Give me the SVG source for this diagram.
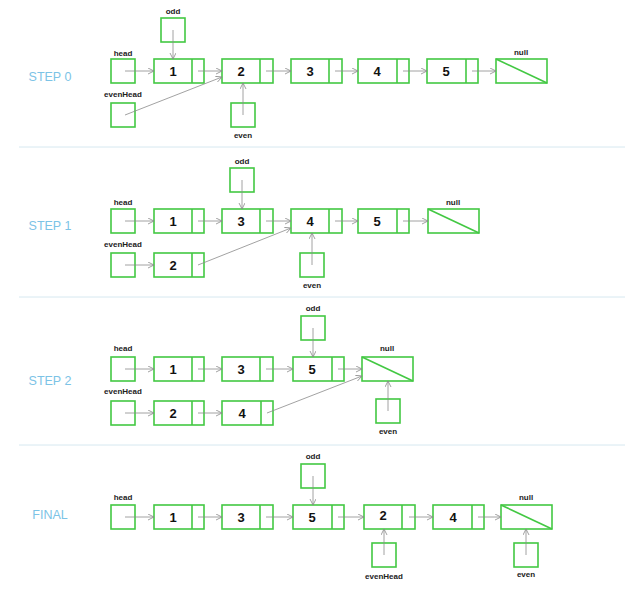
<svg xmlns="http://www.w3.org/2000/svg" width="640" height="590" viewBox="0 0 640 590">
<defs>
<marker id="arr" markerWidth="7" markerHeight="7" refX="6" refY="3" orient="auto" markerUnits="userSpaceOnUse">
<path d="M0,0 L6,3 L0,6" fill="none" stroke="#8a8a8a" stroke-width="0.8"/>
</marker>
<style>
.b{fill:#fff;stroke:#43c843;stroke-width:1.6}
.d{stroke:#43c843;stroke-width:1.6}
.n{font-family:"Liberation Sans",Arial,sans-serif;font-weight:bold;font-size:13px;fill:#111;text-anchor:middle}
.l{font-family:"Liberation Sans",Arial,sans-serif;font-weight:bold;font-size:8px;fill:#222;text-anchor:middle}
.s{font-family:"Liberation Sans",Arial,sans-serif;font-size:12.5px;fill:#7cc3e6;text-anchor:middle}
.sep{stroke:#d6e8f0;stroke-width:1}
.c line{stroke:#8a8a8a;stroke-width:0.8;marker-end:url(#arr)}
</style>
</defs>
<rect width="640" height="590" fill="#fff"/>
<g id="separators">
<line class="sep" x1="19" y1="147" x2="625" y2="147"/>
<line class="sep" x1="19" y1="297" x2="625" y2="297"/>
<line class="sep" x1="19" y1="445" x2="625" y2="445"/>
</g>
<g id="titles">
<text class="s" x="50" y="80.5">STEP 0</text>
<text class="s" x="50" y="229.5">STEP 1</text>
<text class="s" x="50" y="384.5">STEP 2</text>
<text class="s" x="50" y="518.5">FINAL</text>
</g>
<!-- STEP 0 -->
<g id="s0-head"><rect class="b" x="111" y="59" width="24" height="24"/><text class="l" x="123" y="56">head</text></g>
<g id="s0-odd"><rect class="b" x="161" y="18" width="24" height="24"/><text class="l" x="173" y="14">odd</text></g>
<g id="s0-evenHead"><rect class="b" x="111" y="103" width="24" height="24"/><text class="l" x="123" y="97">evenHead</text></g>
<g id="s0-even"><rect class="b" x="231" y="103" width="24" height="24"/><text class="l" x="243" y="138">even</text></g>
<g id="s0-n1"><rect class="b" x="154" y="59" width="50" height="24"/><line class="d" x1="192" y1="59" x2="192" y2="83"/><text class="n" x="173" y="75.5">1</text></g>
<g id="s0-n2"><rect class="b" x="222" y="59" width="51" height="24"/><line class="d" x1="260" y1="59" x2="260" y2="83"/><text class="n" x="241" y="75.5">2</text></g>
<g id="s0-n3"><rect class="b" x="291" y="59" width="51" height="24"/><line class="d" x1="329" y1="59" x2="329" y2="83"/><text class="n" x="310" y="75.5">3</text></g>
<g id="s0-n4"><rect class="b" x="358" y="59" width="51" height="24"/><line class="d" x1="397" y1="59" x2="397" y2="83"/><text class="n" x="377" y="75.5">4</text></g>
<g id="s0-n5"><rect class="b" x="427" y="59" width="51" height="24"/><line class="d" x1="466" y1="59" x2="466" y2="83"/><text class="n" x="446" y="75.5">5</text></g>
<g id="s0-null"><rect class="b" x="496" y="59" width="51" height="24"/><line class="d" x1="496" y1="59" x2="547" y2="83"/><text class="l" x="521" y="55">null</text></g>
<!-- STEP 1 -->
<g id="s1-head"><rect class="b" x="111" y="209" width="24" height="24"/><text class="l" x="123" y="205">head</text></g>
<g id="s1-odd"><rect class="b" x="230" y="168" width="24" height="24"/><text class="l" x="242" y="164">odd</text></g>
<g id="s1-evenHead"><rect class="b" x="111" y="253" width="24" height="24"/><text class="l" x="123" y="247">evenHead</text></g>
<g id="s1-even"><rect class="b" x="300" y="253" width="24" height="24"/><text class="l" x="312" y="288">even</text></g>
<g id="s1-n1"><rect class="b" x="154" y="209" width="50" height="24"/><line class="d" x1="192" y1="209" x2="192" y2="233"/><text class="n" x="173" y="225.5">1</text></g>
<g id="s1-n3"><rect class="b" x="222" y="209" width="51" height="24"/><line class="d" x1="260" y1="209" x2="260" y2="233"/><text class="n" x="241" y="225.5">3</text></g>
<g id="s1-n4"><rect class="b" x="291" y="209" width="51" height="24"/><line class="d" x1="329" y1="209" x2="329" y2="233"/><text class="n" x="310" y="225.5">4</text></g>
<g id="s1-n5"><rect class="b" x="358" y="209" width="51" height="24"/><line class="d" x1="397" y1="209" x2="397" y2="233"/><text class="n" x="377" y="225.5">5</text></g>
<g id="s1-null"><rect class="b" x="428" y="209" width="51" height="24"/><line class="d" x1="428" y1="209" x2="479" y2="233"/><text class="l" x="453" y="205">null</text></g>
<g id="s1-n2"><rect class="b" x="154" y="253" width="50" height="24"/><line class="d" x1="192" y1="253" x2="192" y2="277"/><text class="n" x="173" y="269.5">2</text></g>
<!-- STEP 2 -->
<g id="s2-head"><rect class="b" x="111" y="357" width="24" height="24"/><text class="l" x="123" y="351">head</text></g>
<g id="s2-odd"><rect class="b" x="301" y="316" width="24" height="24"/><text class="l" x="313" y="311">odd</text></g>
<g id="s2-evenHead"><rect class="b" x="111" y="401" width="24" height="24"/><text class="l" x="123" y="394">evenHead</text></g>
<g id="s2-even"><rect class="b" x="376" y="399" width="24" height="24"/><text class="l" x="388" y="434">even</text></g>
<g id="s2-n1"><rect class="b" x="154" y="357" width="50" height="24"/><line class="d" x1="192" y1="357" x2="192" y2="381"/><text class="n" x="173" y="373.5">1</text></g>
<g id="s2-n3"><rect class="b" x="222" y="357" width="51" height="24"/><line class="d" x1="260" y1="357" x2="260" y2="381"/><text class="n" x="241" y="373.5">3</text></g>
<g id="s2-n5"><rect class="b" x="293" y="357" width="51" height="24"/><line class="d" x1="332" y1="357" x2="332" y2="381"/><text class="n" x="312" y="373.5">5</text></g>
<g id="s2-null"><rect class="b" x="362" y="357" width="51" height="24"/><line class="d" x1="362" y1="357" x2="413" y2="381"/><text class="l" x="387" y="351">null</text></g>
<g id="s2-n2"><rect class="b" x="154" y="401" width="50" height="24"/><line class="d" x1="192" y1="401" x2="192" y2="425"/><text class="n" x="173" y="417.5">2</text></g>
<g id="s2-n4"><rect class="b" x="222" y="401" width="51" height="24"/><line class="d" x1="261" y1="401" x2="261" y2="425"/><text class="n" x="242" y="417.5">4</text></g>
<!-- FINAL -->
<g id="f-head"><rect class="b" x="111" y="505" width="24" height="24"/><text class="l" x="123" y="500">head</text></g>
<g id="f-odd"><rect class="b" x="301" y="464" width="24" height="24"/><text class="l" x="313" y="459">odd</text></g>
<g id="f-evenHead"><rect class="b" x="372" y="543" width="24" height="24"/><text class="l" x="384" y="579">evenHead</text></g>
<g id="f-even"><rect class="b" x="514" y="543" width="24" height="24"/><text class="l" x="526" y="577">even</text></g>
<g id="f-n1"><rect class="b" x="154" y="505" width="50" height="24"/><line class="d" x1="192" y1="505" x2="192" y2="529"/><text class="n" x="173" y="521.5">1</text></g>
<g id="f-n3"><rect class="b" x="222" y="505" width="51" height="24"/><line class="d" x1="260" y1="505" x2="260" y2="529"/><text class="n" x="241" y="521.5">3</text></g>
<g id="f-n5"><rect class="b" x="293" y="505" width="51" height="24"/><line class="d" x1="332" y1="505" x2="332" y2="529"/><text class="n" x="312" y="521.5">5</text></g>
<g id="f-n2"><rect class="b" x="364" y="505" width="51" height="24"/><line class="d" x1="402" y1="505" x2="402" y2="529"/><text class="n" x="383" y="519.5">2</text></g>
<g id="f-n4"><rect class="b" x="433" y="505" width="51" height="24"/><line class="d" x1="472" y1="505" x2="472" y2="529"/><text class="n" x="453" y="521.5">4</text></g>
<g id="f-null"><rect class="b" x="501" y="505" width="51" height="24"/><line class="d" x1="501" y1="505" x2="552" y2="529"/><text class="l" x="526" y="500">null</text></g>
<g id="connectors" class="c">
<line x1="125" y1="71" x2="154" y2="71"/>
<line x1="173" y1="30" x2="173" y2="59"/>
<line x1="198" y1="71" x2="222" y2="71"/>
<line x1="125" y1="115" x2="222" y2="77"/>
<line x1="243" y1="115" x2="243" y2="83"/>
<line x1="266" y1="71" x2="291" y2="71"/>
<line x1="335" y1="71" x2="358" y2="71"/>
<line x1="403" y1="71" x2="427" y2="71"/>
<line x1="472" y1="71" x2="496" y2="71"/>

<line x1="125" y1="221" x2="154" y2="221"/>
<line x1="198" y1="221" x2="222" y2="221"/>
<line x1="242" y1="180" x2="242" y2="209"/>
<line x1="266" y1="221" x2="291" y2="221"/>
<line x1="125" y1="265" x2="154" y2="265"/>
<line x1="198" y1="265" x2="291" y2="228"/>
<line x1="312" y1="265" x2="312" y2="233"/>
<line x1="335" y1="221" x2="358" y2="221"/>
<line x1="403" y1="221" x2="428" y2="221"/>

<line x1="125" y1="369" x2="154" y2="369"/>
<line x1="198" y1="369" x2="222" y2="369"/>
<line x1="266" y1="369" x2="293" y2="369"/>
<line x1="313" y1="328" x2="313" y2="357"/>
<line x1="338" y1="369" x2="362" y2="369"/>
<line x1="125" y1="413" x2="154" y2="413"/>
<line x1="198" y1="413" x2="222" y2="413"/>
<line x1="267" y1="413" x2="362" y2="376"/>
<line x1="388" y1="411" x2="388" y2="381"/>

<line x1="125" y1="517" x2="154" y2="517"/>
<line x1="198" y1="517" x2="222" y2="517"/>
<line x1="266" y1="517" x2="293" y2="517"/>
<line x1="313" y1="476" x2="313" y2="505"/>
<line x1="338" y1="517" x2="364" y2="517"/>
<line x1="409" y1="517" x2="433" y2="517"/>
<line x1="478" y1="517" x2="501" y2="517"/>
<line x1="384" y1="555" x2="384" y2="529"/>
<line x1="526" y1="555" x2="526" y2="529"/>
</g>
</svg>
